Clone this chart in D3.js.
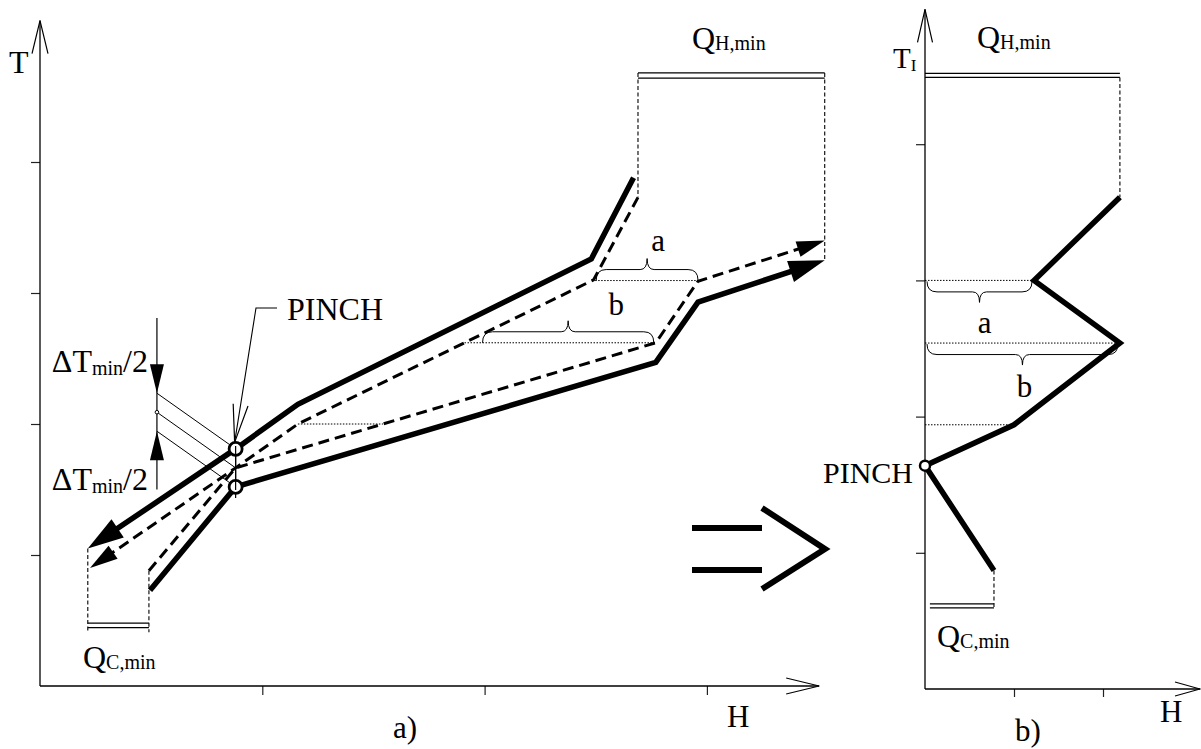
<!DOCTYPE html>
<html>
<head>
<meta charset="utf-8">
<script src="https://cdn.jsdelivr.net/npm/d3@7/dist/d3.min.js"></script>
<style>
  body { margin: 0; background: #fff; }
  text { font-family: "Liberation Serif", "Times New Roman", serif; fill: #000; }
</style>
</head>
<body>
<svg id="chart" width="1201" height="749"></svg>
<script>
// a) composite curves, points are [H, T]
const tTicksA = [100, 200, 300, 400];
const hTicksA = [100, 200, 300];
const hotCurve = [[267, 388], [248, 326], [116, 215], [88, 181], [21.5, 105]];
const coldCurve = [[49.5, 73], [88, 152], [277, 247], [296, 293], [353, 325]];
const hotShifted = [[269, 373], [249, 310], [116, 200], [88, 166.5], [22.5, 90]];
const coldShifted = [[49, 88], [88, 166.5], [277, 262], [296, 309], [353, 340]];
const pinchA = [88, 181, 166.5, 152];   // H, hot T, shifted T, cold T
const qHminA = [468, 464];               // T of the double line
const qCminA = [48, 44.5];
const intervalsA = [309.5, 262, 200];
const bracesA = ["a", "b"];

// b) grand composite curve
const tTicksB = [100, 200, 300, 400];
const hTicksB = [100, 200];
const gcc = [[219, 361], [122.5, 300], [219, 254], [100, 194], [0, 164], [77.5, 87]];
const qHminB = [452, 449];
const qCminB = [62.5, 59.5];
const bracesB = ["a", "b"];

const svg = d3.select("#chart");

const xA = d3.scaleLinear().domain([0, 400]).range([40, 929.2]);
const yA = d3.scaleLinear().domain([0, 500]).range([686, 31]);
const xB = d3.scaleLinear().domain([0, 300]).range([925, 1192]);
const yB = d3.scaleLinear().domain([0, 500]).range([689, 8]);

const gA = svg.append("g");
const gB = svg.append("g");

// H on a curve at a given T (linear between corners)
function hAt(curve, t) {
  for (let i = 0; i < curve.length - 1; i++) {
    const [h0, t0] = curve[i], [h1, t1] = curve[i + 1];
    if (t0 !== t1 && (t - t0) * (t - t1) <= 0) return h0 + (t - t0) / (t1 - t0) * (h1 - h0);
  }
  return curve[0][0];
}

function headGeom(from, to, len, half) {
  const dx = to[0] - from[0], dy = to[1] - from[1], l = Math.hypot(dx, dy);
  const ux = dx / l, uy = dy / l;
  const bx = to[0] - ux * len, by = to[1] - uy * len;
  return {
    l: [bx - uy * half, by + ux * half],
    r: [bx + uy * half, by - ux * half],
    stop: [bx + ux * 4, by + uy * 4]
  };
}

function openHead(g, from, to, len, half) {
  const h = headGeom(from, to, len, half);
  g.append("path")
    .attr("d", `M${h.l}L${to}L${h.r}`)
    .attr("fill", "none").attr("stroke", "#000").attr("stroke-width", 1.2);
}

function drawCurve(g, pts, x, y, dashed) {
  const px = pts.map(d => [x(d[0]), y(d[1])]);
  const n = px.length;
  const h = dashed ? headGeom(px[n - 2], px[n - 1], 28, 8) : headGeom(px[n - 2], px[n - 1], 36, 11);
  const line = px.slice(0, n - 1).concat([h.stop]);
  g.append("path")
    .attr("d", d3.line()(line))
    .attr("fill", "none").attr("stroke", "#000")
    .attr("stroke-width", dashed ? 3 : 5.5)
    .attr("stroke-dasharray", dashed ? "11 6" : null)
    .attr("stroke-linejoin", "miter");
  g.append("path")
    .attr("d", `M${px[n - 1]}L${h.l}L${h.r}Z`)
    .attr("fill", "#000");
}

function brace(g, xl, xr, y, s, w) {
  const f = y + s * w * 0.5, tip = y + s * w, xm = (xl + xr) / 2, c = 10, ct = 7;
  g.append("path")
    .attr("d", `M${xl},${y}Q${xl},${f} ${xl + c},${f}L${xm - ct},${f}Q${xm},${f} ${xm},${tip}` +
      `Q${xm},${f} ${xm + ct},${f}L${xr - c},${f}Q${xr},${f} ${xr},${y}`)
    .attr("fill", "none").attr("stroke", "#000").attr("stroke-width", 1);
  return [xm, tip];
}

function thin(g, x1, y1, x2, y2, dash, w) {
  g.append("line")
    .attr("x1", x1).attr("y1", y1).attr("x2", x2).attr("y2", y2)
    .attr("stroke", "#000").attr("stroke-width", w || 1.1)
    .attr("stroke-dasharray", dash || null);
}

function label(g, x, y, parts, anchor) {
  const t = g.append("text").attr("x", x).attr("y", y).attr("text-anchor", anchor || "start");
  parts.forEach(p => t.append("tspan").attr("font-size", p[1]).attr("dy", p[2] || 0).text(p[0]));
  return t;
}

// ---------- panel a ----------
gA.append("g").attr("transform", `translate(${xA(0)},0)`)
  .call(d3.axisLeft(yA).tickValues(tTicksA).tickSize(9).tickFormat(""))
  .call(g => g.select(".domain").remove());
gA.append("g").attr("transform", `translate(0,${yA(0)})`)
  .call(d3.axisBottom(xA).tickValues(hTicksA).tickSize(9).tickFormat(""))
  .call(g => g.select(".domain").remove());
gA.selectAll(".tick line").attr("stroke", "#222").attr("stroke-width", 1.2);

thin(gA, xA(0), yA(0), xA(0), yA(508), null, 1.3);
thin(gA, xA(0), yA(0), xA(350.5), yA(0), null, 1.3);
openHead(gA, [xA(0), yA(0)], [xA(0), yA(508)], 33, 8);
openHead(gA, [xA(0), yA(0)], [xA(350.5), yA(0)], 33, 8);

// Q_H,min box
qHminA.forEach(t => thin(gA, xA(hotShifted[0][0]), yA(t), xA(coldCurve[4][0]), yA(t), null, 1.3));
thin(gA, xA(hotShifted[0][0]), yA(qHminA[0]), xA(hotShifted[0][0]), yA(hotShifted[0][1]), "4 2.5");
thin(gA, xA(coldCurve[4][0]), yA(qHminA[0]), xA(coldCurve[4][0]), yA(coldCurve[4][1]), "4 2.5");

// Q_C,min box
qCminA.forEach(t => thin(gA, xA(hotCurve[4][0]), yA(t), xA(coldShifted[0][0]), yA(t), null, 1.3));
thin(gA, xA(hotCurve[4][0]), yA(hotCurve[4][1]), xA(hotCurve[4][0]), yA(41), "4 2.5");
thin(gA, xA(coldShifted[0][0]), yA(coldShifted[0][1]), xA(coldShifted[0][0]), yA(41), "4 2.5");

// temperature interval lines
intervalsA.forEach(t => {
  thin(gA, xA(hAt(hotShifted, t)), yA(t), xA(hAt(coldShifted, t)), yA(t), "1.5 1.5", 1);
});

drawCurve(gA, hotShifted, xA, yA, true);
drawCurve(gA, coldShifted, xA, yA, true);
drawCurve(gA, hotCurve, xA, yA, false);
drawCurve(gA, coldCurve, xA, yA, false);

// braces a, b
const bA = [
  { t: intervalsA[0], dx: 11, dy: -8, inL: 4, inR: 2 },
  { t: intervalsA[1], dx: 48, dy: -6, inL: 18, inR: 2 }
];
bA.forEach((b, i) => {
  const tip = brace(gA, xA(hAt(hotShifted, b.t)) + b.inL, xA(hAt(coldShifted, b.t)) - b.inR, yA(b.t), -1, 22);
  label(gA, tip[0] + b.dx, tip[1] + b.dy, [[bracesA[i], 31]], "middle");
});

// pinch marks
const pxP = xA(pinchA[0]);
thin(gA, pxP, yA(pinchA[1]) - 6, pxP, yA(pinchA[3]) + 11, null, 1.2);
const dtX = xA(52.6);
[pinchA[1], pinchA[2], pinchA[3]].forEach(t => thin(gA, dtX, yA(t + 42.5), pxP, yA(t), null, 1));
[pinchA[1], pinchA[3]].forEach(t => {
  gA.append("circle").attr("cx", pxP).attr("cy", yA(t)).attr("r", 6.5)
    .attr("fill", "#fff").attr("stroke", "#000").attr("stroke-width", 2.8);
});
thin(gA, pxP, yA(pinchA[1]) - 3, pxP, yA(pinchA[3]) + 3, null, 1.2);

// ΔTmin/2 marker
thin(gA, dtX, yA(281), dtX, yA(150), null, 1.2);
gA.append("circle").attr("cx", dtX).attr("cy", yA(pinchA[2] + 42.5)).attr("r", 1.8)
  .attr("fill", "#fff").attr("stroke", "#000").attr("stroke-width", 1);
[[pinchA[1] + 42.5, -1], [pinchA[3] + 42.5, 1]].forEach(([t, s]) => {
  const ty = yA(t);
  gA.append("path")
    .attr("d", `M${dtX},${ty}L${dtX - 7},${ty + s * 29}L${dtX + 7},${ty + s * 29}Z`)
    .attr("fill", "#000");
});

// PINCH leader
const tipP = [pxP - 1, yA(pinchA[1]) - 6.5];
gA.append("path")
  .attr("d", `M277,308L256,308L${tipP}`)
  .attr("fill", "none").attr("stroke", "#000").attr("stroke-width", 1.1);
openHead(gA, [256, 308], tipP, 38, 7.5);

label(gA, 9, 73, [["T", 32]]);
label(gA, 692, 49, [["Q", 32], ["H,min", 20, 1]]);
label(gA, 83, 668, [["Q", 32], ["C,min", 20, 1]]);
label(gA, 287, 320, [["PINCH", 32]]);
label(gA, 148, 372, [["\u0394T", 32], ["min", 20, 3], ["/2", 32, -3]], "end");
label(gA, 148, 490, [["\u0394T", 32], ["min", 20, 3], ["/2", 32, -3]], "end");
label(gA, 727, 727, [["H", 31]]);
label(gA, 405, 738, [["a)", 31]], "middle");

// implication arrow
svg.append("path").attr("d", "M692,528H762M692,570H762")
  .attr("stroke", "#000").attr("stroke-width", 6);
svg.append("path").attr("d", "M762,508L825,549L762,589")
  .attr("fill", "none").attr("stroke", "#000").attr("stroke-width", 6).attr("stroke-linejoin", "miter");

// ---------- panel b ----------
gB.append("g").attr("transform", `translate(${xB(0)},0)`)
  .call(d3.axisLeft(yB).tickValues(tTicksB).tickSize(9).tickFormat(""))
  .call(g => g.select(".domain").remove());
gB.append("g").attr("transform", `translate(0,${yB(0)})`)
  .call(d3.axisBottom(xB).tickValues(hTicksB).tickSize(8).tickFormat(""))
  .call(g => g.select(".domain").remove());
gB.selectAll(".tick line").attr("stroke", "#222").attr("stroke-width", 1.2);

thin(gB, xB(0), yB(0), xB(0), yB(499), null, 1.3);
thin(gB, xB(0), yB(0), xB(309), yB(0), null, 1.3);
openHead(gB, [xB(0), yB(0)], [xB(0), yB(499)], 33, 7.5);
openHead(gB, [xB(0), yB(0)], [xB(309), yB(0)], 25, 7);

qHminB.forEach(t => thin(gB, xB(0), yB(t), xB(gcc[0][0]), yB(t), null, 1.3));
thin(gB, xB(gcc[0][0]), yB(qHminB[1]), xB(gcc[0][0]), yB(gcc[0][1]), "4 2.5");
qCminB.forEach(t => thin(gB, xB(5.5), yB(t), xB(gcc[5][0]), yB(t), null, 1.3));
thin(gB, xB(gcc[5][0]), yB(gcc[5][1]), xB(gcc[5][0]), yB(qCminB[1]), "4 2.5");

[gcc[1], gcc[2], gcc[3]].forEach(d => thin(gB, xB(0), yB(d[1]), xB(d[0]), yB(d[1]), "1.5 1.5", 1));

gB.append("path")
  .attr("d", d3.line().x(d => xB(d[0])).y(d => yB(d[1]))(gcc))
  .attr("fill", "none").attr("stroke", "#000").attr("stroke-width", 5.5)
  .attr("stroke-linejoin", "miter");
gB.append("circle").attr("cx", xB(gcc[4][0])).attr("cy", yB(gcc[4][1])).attr("r", 5)
  .attr("fill", "#fff").attr("stroke", "#000").attr("stroke-width", 2.5);

const bB = [{ p: gcc[1], dx: 5, dy: 31 }, { p: gcc[2], dx: 2, dy: 32 }];
bB.forEach((b, i) => {
  const tip = brace(gB, xB(0) + 2, xB(b.p[0]) - 2, yB(b.p[1]) + 1, 1, 21);
  label(gB, tip[0] + b.dx, tip[1] + b.dy, [[bracesB[i], 31]], "middle");
});

label(gB, 893, 68, [["T", 29], ["I", 17, 3]]);
label(gB, 977, 48, [["Q", 32], ["H,min", 20, 1]]);
label(gB, 937, 647, [["Q", 32], ["C,min", 20, 1]]);
label(gB, 913, 483, [["PINCH", 30]], "end");
label(gB, 1160, 722, [["H", 31]]);
label(gB, 1015, 741, [["b)", 31]]);
</script>
</body>
</html>
